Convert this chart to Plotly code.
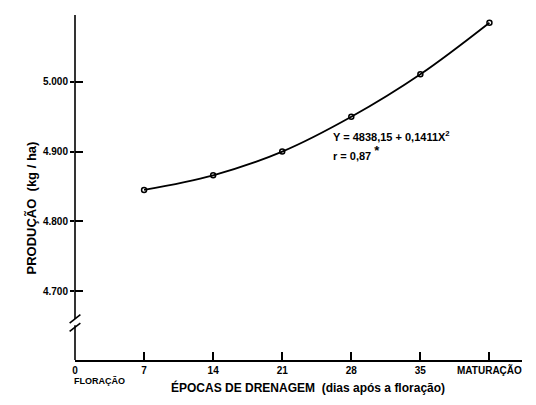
import plotly.graph_objects as go

dias = [7, 14, 21, 28, 35, 42]
producao = [4845, 4866, 4900, 4950, 5011, 5085]
x_ticks = [0, 7, 14, 21, 28, 35, 42]
x_ticktext = ["0", "7", "14", "21", "28", "35", "MATURAÇÃO"]
y_ticks = [4700, 4800, 4900, 5000]
y_ticktext = ["4.700", "4.800", "4.900", "5.000"]

XR = [0, 45.3]
YR = [4601, 5096]
FONT = "Liberation Sans Narrow, Liberation Sans, Arial"

def yp(v):
    return (v - YR[0]) / (YR[1] - YR[0])

fig = go.Figure()
fig.add_trace(go.Scatter(
    x=dias, y=producao, mode="lines+markers",
    line=dict(color="black", width=1.8, shape="spline", smoothing=1.0),
    marker=dict(symbol="circle-open", size=5, color="black", line=dict(width=1.5)),
    hoverinfo="skip", showlegend=False,
))
fig.add_trace(go.Scatter(
    x=dias, y=producao, yaxis="y2", mode="markers",
    marker=dict(opacity=0), hoverinfo="skip", showlegend=False,
))

shapes = [
    # y axis line with break
    dict(type="line", xref="paper", yref="paper", x0=0, x1=0, y0=0, y1=yp(4651),
         line=dict(color="black", width=1.6)),
    dict(type="line", xref="paper", yref="paper", x0=0, x1=0, y0=yp(4660), y1=1,
         line=dict(color="black", width=1.6)),
    dict(type="line", xref="paper", yref="paper", x0=-0.012, x1=0.012, y0=yp(4654), y1=yp(4666),
         line=dict(color="black", width=1.6)),
    dict(type="line", xref="paper", yref="paper", x0=-0.012, x1=0.012, y0=yp(4642), y1=yp(4654),
         line=dict(color="black", width=1.6)),
]

annotations = [
    dict(text="<b>PRODUÇÃO  (kg / ha)</b>", xref="paper", yref="paper", x=-0.119, y=0.44,
         textangle=-90, showarrow=False, font=dict(family=FONT, size=13, color="black")),
    dict(text="<b>ÉPOCAS DE DRENAGEM  (dias após a floração)</b>", xref="paper", yref="paper",
         x=0.521, y=-0.107, showarrow=False, font=dict(family=FONT, size=12, color="black")),
    dict(text="<b>FLORAÇÃO</b>", xref="paper", yref="paper", x=-0.006, y=-0.082,
         xanchor="left", showarrow=False, font=dict(family=FONT, size=9, color="black")),
    dict(text="<b>Y = 4838,15 + 0,1411X<sup>2</sup></b>", xref="paper", yref="paper",
         x=0.573, y=0.648, xanchor="left", showarrow=False,
         font=dict(family=FONT, size=11, color="black")),
    dict(text="<b>r = 0,87 <sup><span style='font-size:13px'>*</span></sup></b>", xref="paper",
         yref="paper", x=0.573, y=0.602, xanchor="left", showarrow=False,
         font=dict(family=FONT, size=11, color="black")),
]

fig.update_layout(
    width=528, height=397,
    margin=dict(l=67, r=14, t=7, b=45),
    paper_bgcolor="white", plot_bgcolor="white",
    shapes=shapes, annotations=annotations,
    xaxis=dict(range=XR, tickvals=x_ticks, ticktext=x_ticktext, ticks="inside", ticklen=8,
               tickwidth=1.5, tickcolor="black", showline=True, linecolor="black", linewidth=1.6,
               showgrid=False, zeroline=False,
               tickfont=dict(family=FONT, size=10, color="black", weight="bold")),
    yaxis=dict(range=YR, tickvals=y_ticks, ticktext=y_ticktext, ticks="outside", ticklen=4,
               tickwidth=1.5, tickcolor="black", showline=False, showgrid=False, zeroline=False,
               tickfont=dict(family=FONT, size=10, color="black", weight="bold")),
    yaxis2=dict(range=YR, overlaying="y", side="left", anchor="x", tickvals=y_ticks,
                ticks="inside", ticklen=8, tickwidth=1.5, tickcolor="black",
                showticklabels=False, showline=False, showgrid=False, zeroline=False),
)

fig.write_html("out.html")
